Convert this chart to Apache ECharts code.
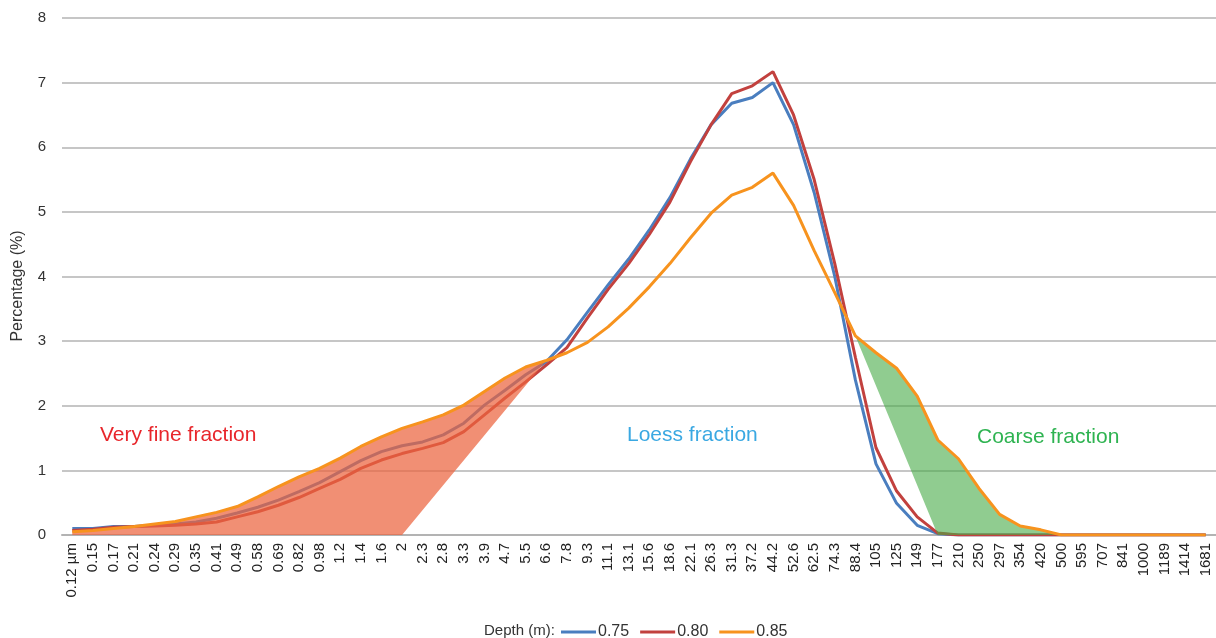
<!DOCTYPE html>
<html>
<head>
<meta charset="utf-8">
<script src="https://cdn.jsdelivr.net/npm/echarts@6/dist/echarts.min.js"></script>
<style>
  html, body { margin: 0; padding: 0; background: #fff; }
  #chart { width: 1216px; height: 638px; }
</style>
</head>
<body>
<div id="chart"></div>
<script>
// Grain size classes (µm)
const sizeClasses = ['0.12 µm','0.15','0.17','0.21','0.24','0.29','0.35','0.41','0.49','0.58','0.69','0.82','0.98','1.2','1.4','1.6','2','2.3','2.8','3.3','3.9','4.7','5.5','6.6','7.8','9.3','11.1','13.1','15.6','18.6','22.1','26.3','31.3','37.2','44.2','52.6','62.5','74.3','88.4','105','125','149','177','210','250','297','354','420','500','595','707','841','1000','1189','1414','1681'];

// Percentage per class at each sampling depth
const depth075 = [0.10,0.10,0.13,0.13,0.15,0.17,0.20,0.26,0.34,0.43,0.54,0.67,0.81,0.98,1.15,1.29,1.38,1.44,1.55,1.73,2.01,2.24,2.48,2.68,3.02,3.45,3.87,4.27,4.72,5.22,5.82,6.35,6.68,6.77,7.00,6.35,5.30,4.00,2.40,1.10,0.49,0.15,0.02,0,0,0,0,0,0,0,0,0,0,0,0,0];
const depth080 = [0.07,0.09,0.12,0.13,0.14,0.15,0.17,0.20,0.28,0.36,0.46,0.58,0.72,0.86,1.03,1.16,1.26,1.34,1.43,1.60,1.86,2.12,2.37,2.63,2.90,3.36,3.80,4.20,4.65,5.15,5.78,6.35,6.83,6.95,7.17,6.50,5.50,4.20,2.75,1.35,0.68,0.28,0.03,0,0,0,0,0,0,0,0,0,0,0,0,0];
const depth085 = [0.05,0.07,0.10,0.13,0.17,0.21,0.28,0.35,0.44,0.59,0.75,0.90,1.03,1.19,1.37,1.52,1.65,1.75,1.86,2.01,2.22,2.43,2.60,2.70,2.82,2.98,3.22,3.51,3.84,4.20,4.60,4.98,5.26,5.38,5.60,5.10,4.40,3.75,3.08,2.82,2.58,2.15,1.47,1.18,0.72,0.32,0.14,0.08,0,0,0,0,0,0,0,0];

// Y axis ticks
const yTicks = [0, 1, 2, 3, 4, 5, 6, 7, 8];

// Shaded fractions: class indices bounding each region
const fineRegion = { from: 0, to: 23, baseEnd: 16 };    // 0.12 µm .. 6.6, foot at 2
const coarseRegion = { from: 38, to: 48, baseStart: 42 }; // 88.4 .. 500, foot at 177

const FONT = '"Liberation Sans", Arial, Helvetica, sans-serif';

function finePolygon() {
  const pts = [];
  for (let i = fineRegion.from; i <= fineRegion.to; i++) pts.push([i, depth085[i]]);
  pts.push([fineRegion.baseEnd, 0]);
  pts.push([fineRegion.from, 0]);
  return pts;
}
function coarsePolygon() {
  const pts = [];
  for (let i = coarseRegion.from; i <= coarseRegion.to; i++) pts.push([i, depth085[i]]);
  pts.push([coarseRegion.baseStart, 0]);
  return pts;
}
function regionSeries(pts, color, z) {
  return {
    type: 'custom',
    z: z,
    silent: true,
    data: [0],
    renderItem: function (params, api) {
      return {
        type: 'polygon',
        shape: { points: pts.map(p => api.coord(p)) },
        style: { fill: color }
      };
    }
  };
}

const chart = echarts.init(document.getElementById('chart'), null, { renderer: 'canvas' });

chart.setOption({
  animation: false,
  backgroundColor: '#ffffff',
  grid: { left: 62, right: 0, top: 18, bottom: 103, containLabel: false },
  legend: {
    data: ['0.75', '0.80', '0.85'],
    left: 561,
    top: 624,
    padding: 0,
    icon: 'rect',
    itemWidth: 35,
    itemHeight: 3,
    itemGap: 11,
    textStyle: { fontFamily: FONT, fontSize: 16, color: '#333', padding: [0, 0, 0, -3] }
  },
  graphic: [
    { type: 'text', left: 484, top: 623, style: { text: 'Depth (m):', font: '15px ' + FONT, fill: '#333' } },
    { type: 'text', x: 18, y: 286, rotation: Math.PI / 2,
      style: { text: 'Percentage (%)', font: '16px ' + FONT, fill: '#333', align: 'center', verticalAlign: 'middle' } },
    { type: 'text', left: 100, top: 425, style: { text: 'Very fine fraction', font: '21px ' + FONT, fill: '#e8262b' } },
    { type: 'text', left: 627, top: 425, style: { text: 'Loess fraction', font: '21px ' + FONT, fill: '#3aa8e2' } },
    { type: 'text', left: 977, top: 427, style: { text: 'Coarse fraction', font: '21px ' + FONT, fill: '#2eb351' } }
  ],
  xAxis: {
    type: 'category',
    data: sizeClasses,
    boundaryGap: true,
    axisLine: { lineStyle: { color: '#b3b3b3', width: 2 } },
    axisTick: { show: false },
    axisLabel: { interval: 0, rotate: 90, margin: 8, fontFamily: FONT, fontSize: 15, color: '#222' },
    splitLine: { show: false }
  },
  yAxis: {
    type: 'value',
    min: yTicks[0],
    max: yTicks[yTicks.length - 1],
    interval: 1,
    axisLine: { show: false },
    axisTick: { show: false },
    axisLabel: { margin: 16, fontFamily: FONT, fontSize: 15, color: '#333' },
    splitLine: { lineStyle: { color: '#b3b3b3', width: 1.5 } }
  },
  series: [
    { name: '0.75', type: 'line', data: depth075, symbol: 'none', z: 2, color: '#4a7ebf', lineStyle: { width: 3, color: '#4a7ebf' } },
    { name: '0.80', type: 'line', data: depth080, symbol: 'none', z: 2, color: '#c2413e', lineStyle: { width: 3, color: '#c2413e' } },
    regionSeries(finePolygon(), 'rgba(236,100,62,0.72)', 3),
    regionSeries(coarsePolygon(), 'rgba(70,170,70,0.6)', 3),
    { name: '0.85', type: 'line', data: depth085, symbol: 'none', z: 4, color: '#f7931e', lineStyle: { width: 3, color: '#f7931e' } }
  ]
});
</script>
</body>
</html>
